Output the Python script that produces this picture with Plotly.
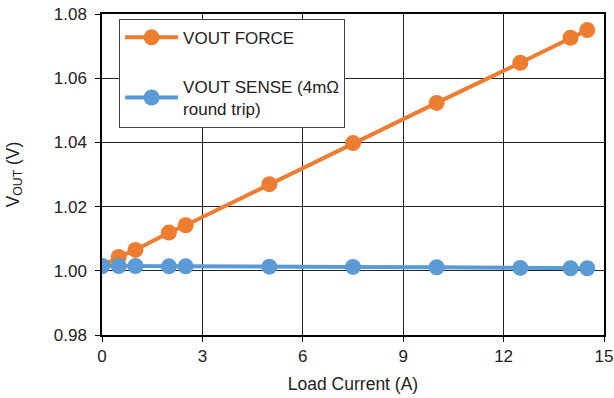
import plotly.graph_objects as go

load_current = [0, 0.5, 1, 2, 2.5, 5, 7.5, 10, 12.5, 14, 14.5]
vout_force = [1.0015, 1.0043, 1.0065, 1.0119, 1.0142, 1.0270, 1.0398, 1.0523, 1.0648, 1.0726, 1.0750]
vout_sense = [1.0015, 1.0015, 1.0015, 1.0014, 1.0014, 1.0013, 1.0012, 1.0011, 1.0009, 1.0008, 1.0008]
x_ticks = [0, 3, 6, 9, 12, 15]
y_ticks = [0.98, 1.00, 1.02, 1.04, 1.06, 1.08]

ORANGE = "#ED7D31"
BLUE = "#5B9BD5"
FONT = "Liberation Sans, Arial, sans-serif"
TXT = "#222222"

fig = go.Figure()
fig.add_trace(go.Scatter(
    x=load_current, y=vout_force, mode="lines+markers", name="VOUT FORCE",
    line=dict(color=ORANGE, width=4), marker=dict(color=ORANGE, size=16),
    legendgroup="a"))
fig.add_trace(go.Scatter(
    x=load_current, y=vout_sense, mode="lines+markers",
    name="VOUT SENSE (4mΩ<br>round trip)",
    line=dict(color=BLUE, width=4), marker=dict(color=BLUE, size=16),
    legendgroup="b"))

axis_common = dict(
    showgrid=True, gridcolor="#222222", gridwidth=1,
    showline=True, linecolor="black", linewidth=1.5, mirror=True,
    ticks="outside", ticklen=5, tickcolor="black",
    tickfont=dict(family=FONT, size=17, color=TXT),
    zeroline=False, automargin=False,
)
fig.update_xaxes(range=[0, 15], tickvals=x_ticks, ticktext=[str(v) for v in x_ticks],
                 title=dict(text="Load Current (A)", font=dict(family=FONT, size=17.5, color=TXT), standoff=13),
                 **axis_common)
fig.update_yaxes(range=[0.98, 1.08], tickvals=y_ticks, ticktext=[f"{v:.2f}" for v in y_ticks],
                 ticklabelstandoff=5,
                 title=dict(text="V<sub>OUT</sub> (V)", font=dict(family=FONT, size=17.5, color=TXT), standoff=30),
                 **axis_common)

fig.update_layout(
    width=614, height=398,
    margin=dict(l=102, r=10, t=14, b=63),
    paper_bgcolor="white", plot_bgcolor="white",
    font=dict(family=FONT, size=17, color=TXT),
    legend=dict(x=0.034, y=0.985, xanchor="left", yanchor="top",
                bgcolor="white", bordercolor="#444444", borderwidth=1,
                font=dict(family=FONT, size=17, color=TXT),
                tracegroupgap=24, itemwidth=53),
    showlegend=True,
)

fig.write_html("out.html")
